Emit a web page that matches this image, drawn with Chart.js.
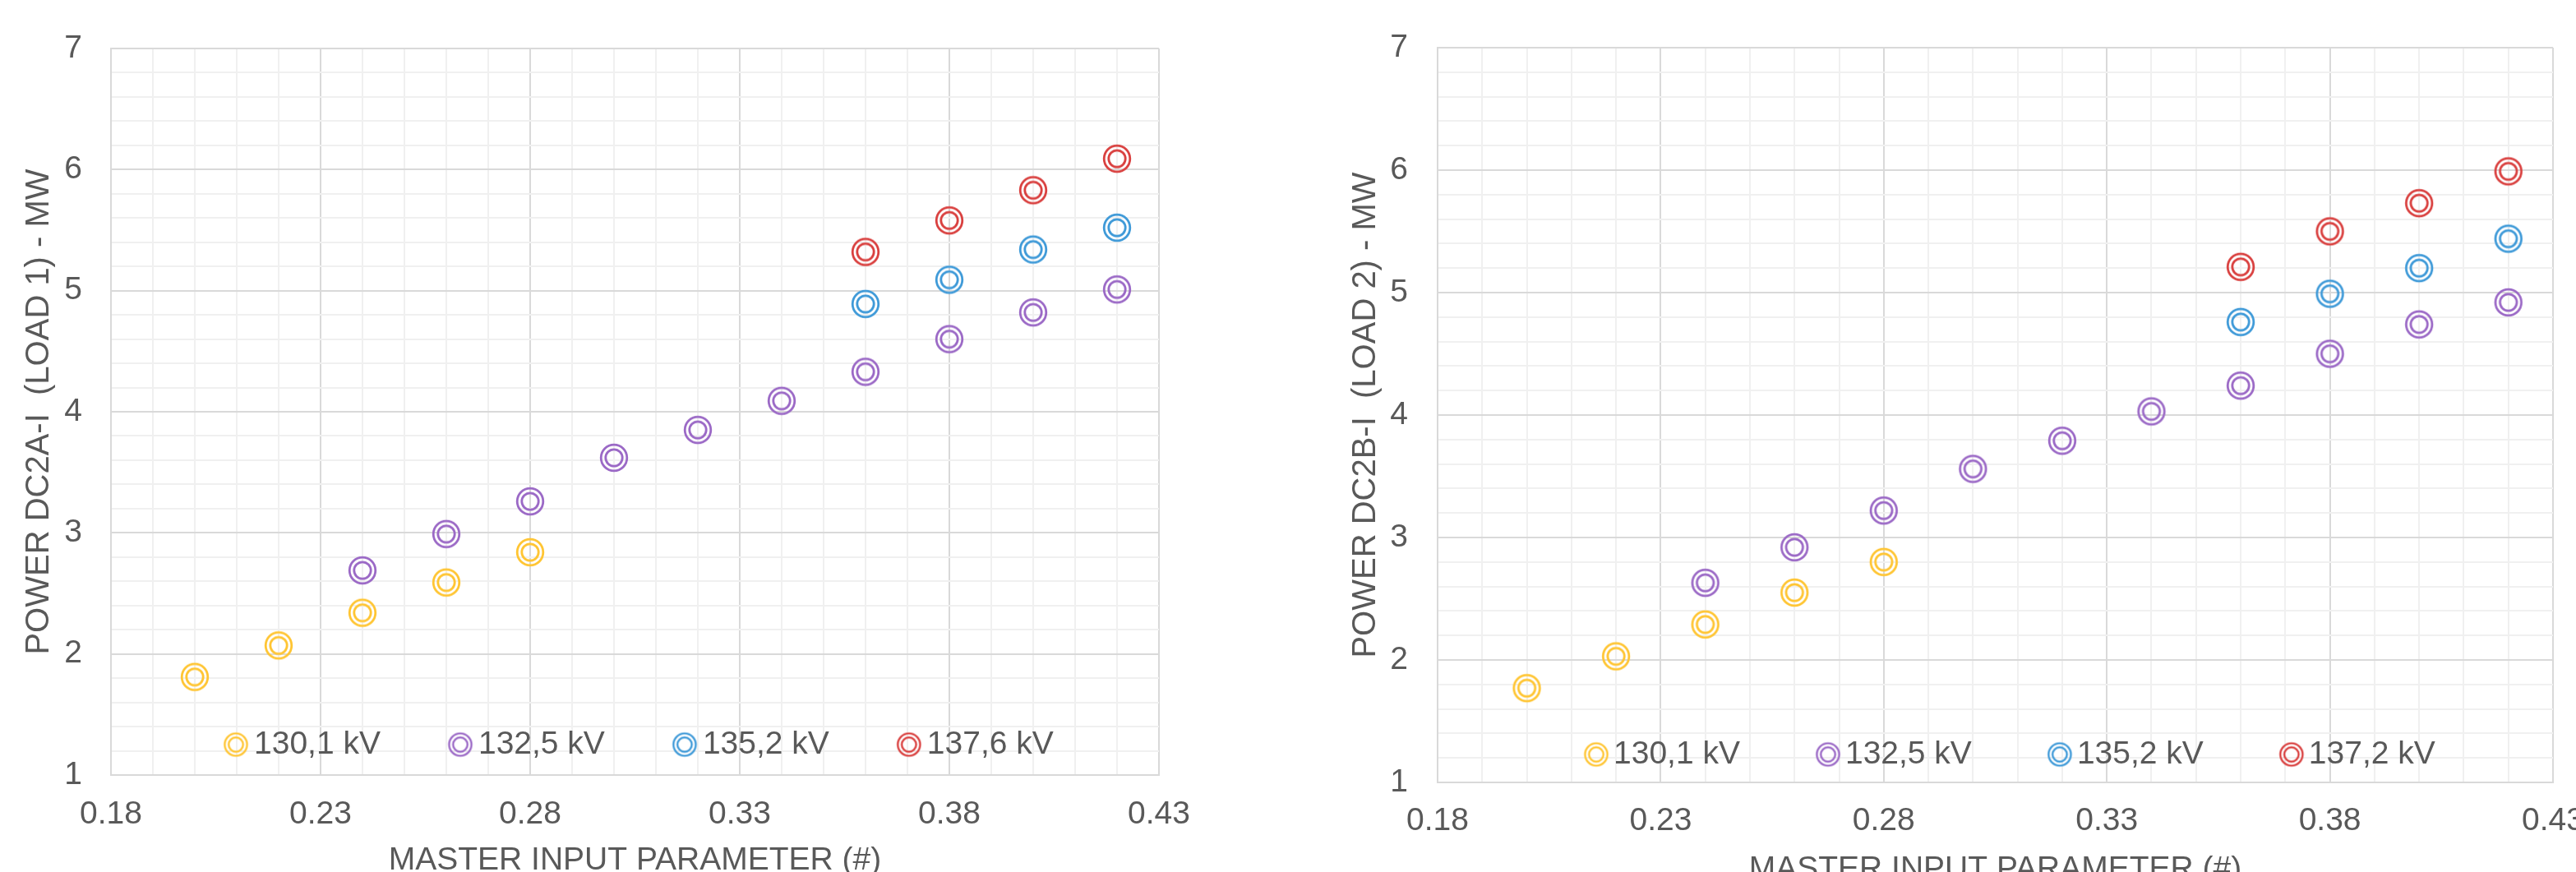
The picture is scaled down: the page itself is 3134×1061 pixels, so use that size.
<!DOCTYPE html>
<html>
<head>
<meta charset="utf-8">
<title>DC2 power vs master input parameter</title>
<script src="https://cdn.jsdelivr.net/npm/chart.js@4.4.1/dist/chart.umd.min.js"></script>
<style>
  html, body { margin: 0; padding: 0; background: #fff; overflow: hidden; width: 3134px; height: 1061px; }
  .box { position: absolute; top: 0; }
  #box1 { left: 0; }
  #box2 { left: 1560px; }
</style>
</head>
<body>
<div class="box" id="box1"><canvas id="chart1" width="1560" height="1100"></canvas></div>
<div class="box" id="box2"><canvas id="chart2" width="1620" height="1100"></canvas></div>
<script>
// DATA
const xLow  = [0.20, 0.22, 0.24, 0.26, 0.28];
const xMid  = [0.24, 0.26, 0.28, 0.30, 0.32, 0.34, 0.36, 0.38, 0.40, 0.42];
const xHigh = [0.36, 0.38, 0.40, 0.42];

// LOAD 1 (DC2A-I)
const load1_130 = [1.81, 2.07, 2.34, 2.59, 2.84];
const load1_132 = [2.69, 2.99, 3.26, 3.62, 3.85, 4.09, 4.33, 4.60, 4.82, 5.01];
const load1_135 = [4.89, 5.09, 5.34, 5.52];
const load1_137 = [5.32, 5.58, 5.83, 6.09];

// LOAD 2 (DC2B-I)
const load2_130 = [1.77, 2.03, 2.29, 2.55, 2.80];
const load2_132 = [2.63, 2.92, 3.22, 3.56, 3.79, 4.03, 4.24, 4.50, 4.74, 4.92];
const load2_135 = [4.76, 4.99, 5.20, 5.44];
const load2_137 = [5.21, 5.50, 5.73, 5.99];

const labels1 = ['130,1 kV', '132,5 kV', '135,2 kV', '137,6 kV'];
const labels2 = ['130,1 kV', '132,5 kV', '135,2 kV', '137,2 kV'];

const xTickLabels = [0.18, 0.23, 0.28, 0.33, 0.38, 0.43];
const yTickLabels = [1, 2, 3, 4, 5, 6, 7];

const colors = ['#FFC533', '#9B69C6', '#3F9AD8', '#D9403F'];

// STYLE
const FONT = '"Liberation Sans", Arial, sans-serif';
const TEXT = '#595959';
Chart.defaults.font.family = FONT;
Chart.defaults.color = TEXT;

const isMajor = (v, list) => list.some(t => Math.abs(t - v) < 1e-6);

// double ring marker, s = scale
function makeRing(color, s) {
    const size = Math.ceil(38 * s);
    const c = document.createElement('canvas');
    c.width = size; c.height = size;
    const g = c.getContext('2d');
    const m = size / 2;
    g.strokeStyle = color;
    g.lineWidth = 2.8 * s;
    g.beginPath(); g.arc(m, m, 15.8 * s, 0, Math.PI * 2); g.stroke();
    g.beginPath(); g.arc(m, m, 10.2 * s, 0, Math.PI * 2); g.stroke();
    return c;
}
const rings = colors.map(c => makeRing(c, 1));
const legendRings = colors.map(c => makeRing(c, 0.86));

// legend drawn inside the plot, like the Excel one
const ringLegend = {
    id: 'ringLegend',
    afterDraw(chart, args, opts) {
        const {ctx, chartArea} = chart;
        ctx.save();
        ctx.font = '39px ' + FONT;
        ctx.fillStyle = TEXT;
        ctx.textBaseline = 'middle';
        ctx.textAlign = 'left';
        let x = chartArea.left + opts.left;
        const y = chartArea.bottom - opts.dy;
        chart.data.datasets.forEach((ds, i) => {
            const img = legendRings[i];
            ctx.drawImage(img, x + 15 - img.width / 2, y - img.height / 2);
            x += 30 + opts.gap;
            ctx.fillText(ds.label, x, y);
            x += ctx.measureText(ds.label).width + opts.spacer;
        });
        ctx.restore();
    }
};

const gridColor = c => isMajor(c.tick.value, c.scale.axis === 'x' ? xTickLabels : yTickLabels) ? '#d9d9d9' : '#f0f0f0';

function buildChart(id, cfg) {
    const xs = [xLow, xMid, xHigh, xHigh];
    new Chart(document.getElementById(id), {
        type: 'scatter',
        data: {
            datasets: cfg.series.map((ys, i) => ({
                label: cfg.labels[i],
                data: ys.map((y, j) => ({x: xs[i][j], y: y})),
                pointStyle: rings[i],
                pointRadius: 17,
                borderColor: colors[i],
                backgroundColor: colors[i]
            }))
        },
        options: {
            responsive: false,
            animation: false,
            events: [],
            layout: { padding: { top: cfg.padTop, right: cfg.padRight, left: 0, bottom: 0 } },
            plugins: {
                legend: { display: false },
                tooltip: { enabled: false },
                ringLegend: cfg.legend
            },
            scales: {
                x: {
                    type: 'linear',
                    min: 0.18,
                    max: 0.43,
                    afterFit: s => { s.height = cfg.xHeight; },
                    ticks: {
                        stepSize: 0.01,
                        autoSkip: false,
                        maxRotation: 0,
                        padding: cfg.xTickPad,
                        font: { size: 39 },
                        callback: v => isMajor(v, xTickLabels) ? v.toFixed(2) : ''
                    },
                    grid: { drawTicks: false, color: gridColor, lineWidth: 2 },
                    border: { color: '#d9d9d9', width: 2 },
                    title: {
                        display: true,
                        text: 'MASTER INPUT PARAMETER (#)',
                        font: { size: 39 },
                        padding: { top: 0, bottom: cfg.xTitlePad }
                    }
                },
                y: {
                    min: 1,
                    max: 7,
                    afterFit: s => { s.width = cfg.yWidth; },
                    ticks: {
                        stepSize: 0.2,
                        autoSkip: false,
                        padding: cfg.yTickPad,
                        font: { size: 39, lineHeight: 1 },
                        callback: v => isMajor(v, yTickLabels) ? String(Math.round(v)) : ''
                    },
                    grid: { drawTicks: false, color: gridColor, lineWidth: 2 },
                    border: { color: '#d9d9d9', width: 2 },
                    title: {
                        display: true,
                        text: cfg.yTitle,
                        font: { size: 40 },
                        padding: { top: cfg.yTitlePad, bottom: 0 }
                    }
                }
            }
        },
        plugins: [ringLegend]
    });
}

buildChart('chart1', {
    yTitle: 'POWER DC2A-I  (LOAD 1) - MW',
    series: [load1_130, load1_132, load1_135, load1_137],
    labels: labels1,
    padTop: 59, padRight: 150, yWidth: 135, xHeight: 157,
    yTickPad: 35, xTickPad: 25, yTitlePad: 24, xTitlePad: 29,
    legend: { left: 137, dy: 37, gap: 7, spacer: 82 }
});

buildChart('chart2', {
    yTitle: 'POWER DC2B-I  (LOAD 2) - MW',
    series: [load2_130, load2_132, load2_135, load2_137],
    labels: labels2,
    padTop: 58, padRight: 74, yWidth: 189, xHeight: 148,
    yTickPad: 36, xTickPad: 24, yTitlePad: 78, xTitlePad: 18,
    legend: { left: 178, dy: 34, gap: 6, spacer: 92 }
});
</script>
</body>
</html>
